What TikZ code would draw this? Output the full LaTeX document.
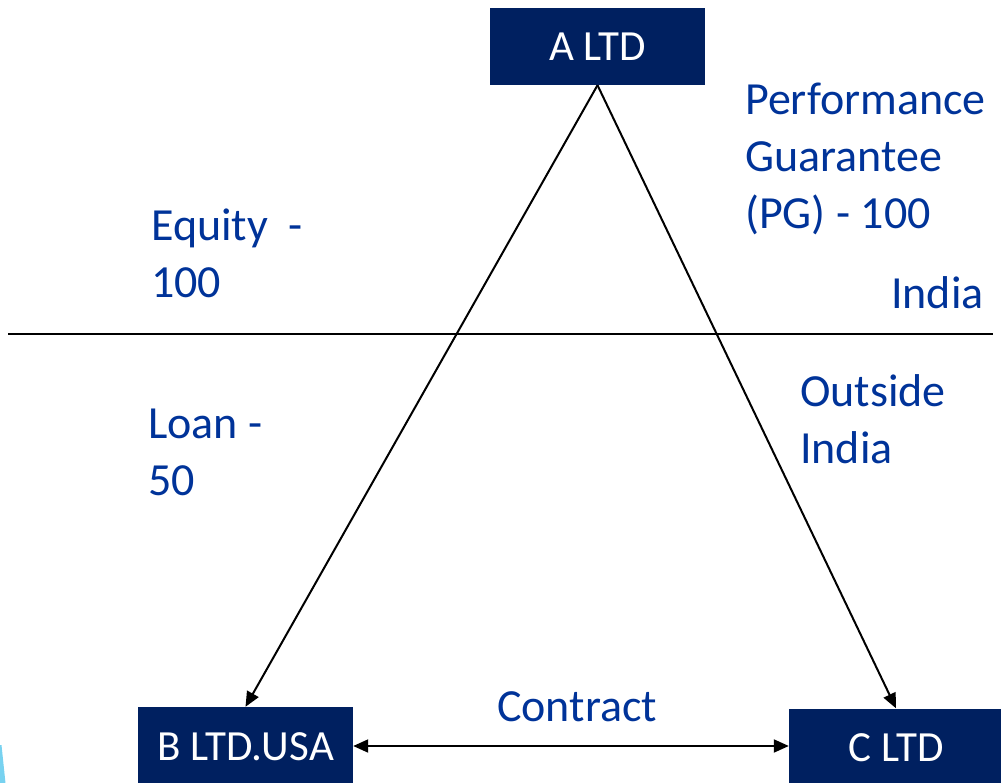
\documentclass[tikz,border=0pt]{standalone}
\usepackage{fontspec}
\setmainfont{Carlito}
\usetikzlibrary{arrows.meta}
\definecolor{boxblue}{RGB}{0,32,96}
\definecolor{txtblue}{RGB}{0,51,153}
\definecolor{sliver}{RGB}{120,210,240}
\tikzset{
  entity/.style={fill=boxblue, text=white, inner sep=0pt, minimum width=215pt,
    minimum height=77pt, text height=28pt, text depth=0pt,
    font=\fontsize{43}{52}\selectfont},
  label/.style={text=txtblue, inner sep=0pt, anchor=base west, align=left,
    font=\fontsize{46}{57}\selectfont},
  link/.style={line width=2pt, -{Triangle[length=15pt,width=13pt]}},
  both/.style={line width=2pt, {Triangle[length=15pt,width=13pt]}-{Triangle[length=15pt,width=13pt]}}
}
\begin{document}
\begin{tikzpicture}[x=1pt,y=-1pt]
\useasboundingbox (0,0) rectangle (1001,783);
\fill[sliver] (0,745) -- (1.5,745) -- (5.5,783) -- (0,783) -- cycle;
\node[entity] (A) at (597.5,46.5) {A LTD};
\node[entity, minimum height=78pt] (B) at (245.5,746) {B LTD.USA};
\node[entity, minimum width=214pt] (C) at (896,747) {C LTD};
\coordinate (L) at (8,334);
\coordinate (R) at (993,334);
\draw[line width=2pt] (L) -- (R);
\draw[link] (A.south) -- (B.north);
\draw[link] (A.south) -- (C.north);
\draw[both] (B.east) -- (C.west |- B.east);
\node[label] (eq) at (151,298) {Equity~~-\\100};
\node[label] (ln) at (148,495) {Loan -\\50};
\node[label] (pg) at (745,229) {Performance\\Guarantee\\(PG) - 100};
\node[label] (in) at (891,309) {India};
\node[label] (out) at (800,463) {Outside\\India};
\node[label] (ct) at (497,721) {Contract};
\end{tikzpicture}
\end{document}
